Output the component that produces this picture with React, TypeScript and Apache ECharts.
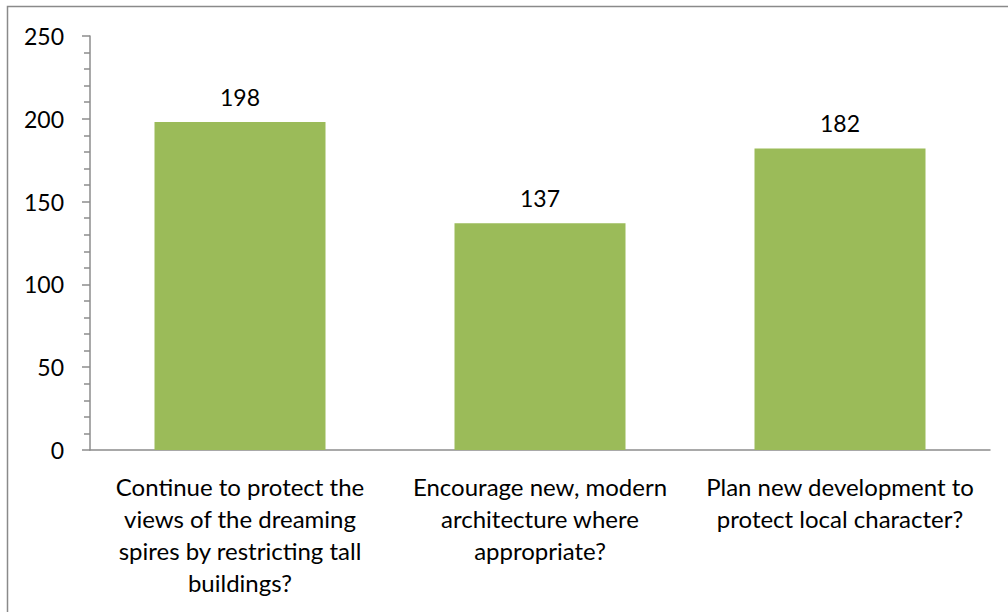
import React, { useEffect, useRef } from "react";
import * as echarts from "echarts";

const categories = [
  "Continue to protect the\nviews of the dreaming\nspires by restricting tall\nbuildings?",
  "Encourage new, modern\narchitecture where\nappropriate?",
  "Plan new development to\nprotect local character?",
];
const values = [198, 137, 182];

const FONT = "Lato, 'Open Sans', sans-serif";
const AXIS_COLOR = "#8c8c8c";

export default function App() {
  const ref = useRef<HTMLDivElement>(null);
  useEffect(() => {
    if (!ref.current) return;
    const chart = echarts.init(ref.current, undefined, { renderer: "svg" });
    chart.setOption({
      animation: false,
      backgroundColor: "#ffffff",
      textStyle: { fontFamily: FONT },
      graphic: [
        {
          type: "rect",
          shape: { x: 7.5, y: 6.5, width: 1100, height: 700 },
          style: { fill: "none", stroke: "#8a8a8a", lineWidth: 1.5 },
          silent: true,
          z: -10,
        },
      ],
      grid: { left: 90, right: 18, top: 36, bottom: 162, containLabel: false },
      xAxis: {
        type: "category",
        data: categories,
        axisTick: { show: false },
        axisLine: { lineStyle: { color: AXIS_COLOR, width: 1.5 } },
        axisLabel: {
          color: "#000",
          fontFamily: FONT,
          fontSize: 24,
          lineHeight: 32,
          margin: 20,
          interval: 0,
          align: "center",
        },
      },
      yAxis: {
        type: "value",
        min: 0,
        max: 250,
        interval: 50,
        splitLine: { show: false },
        axisLine: { show: true, lineStyle: { color: AXIS_COLOR, width: 1.5 } },
        axisTick: { show: true, inside: false, length: 8, lineStyle: { color: AXIS_COLOR, width: 1.5 } },
        minorTick: { show: true, splitNumber: 5, length: 6, lineStyle: { color: AXIS_COLOR, width: 1.5 } },
        axisLabel: { color: "#000", fontFamily: FONT, fontSize: 23, margin: 26 },
      },
      series: [
        {
          type: "bar",
          data: values,
          barWidth: "57%",
          itemStyle: { color: "#9BBB59" },
          label: {
            show: true,
            position: "top",
            distance: 14,
            color: "#000",
            fontFamily: FONT,
            fontSize: 23,
          },
        },
      ],
    });
    return () => chart.dispose();
  }, []);
  return (
    <div
      ref={ref}
      style={{ position: "absolute", left: 0, top: 0, width: 1008, height: 612 }}
    />
  );
}
